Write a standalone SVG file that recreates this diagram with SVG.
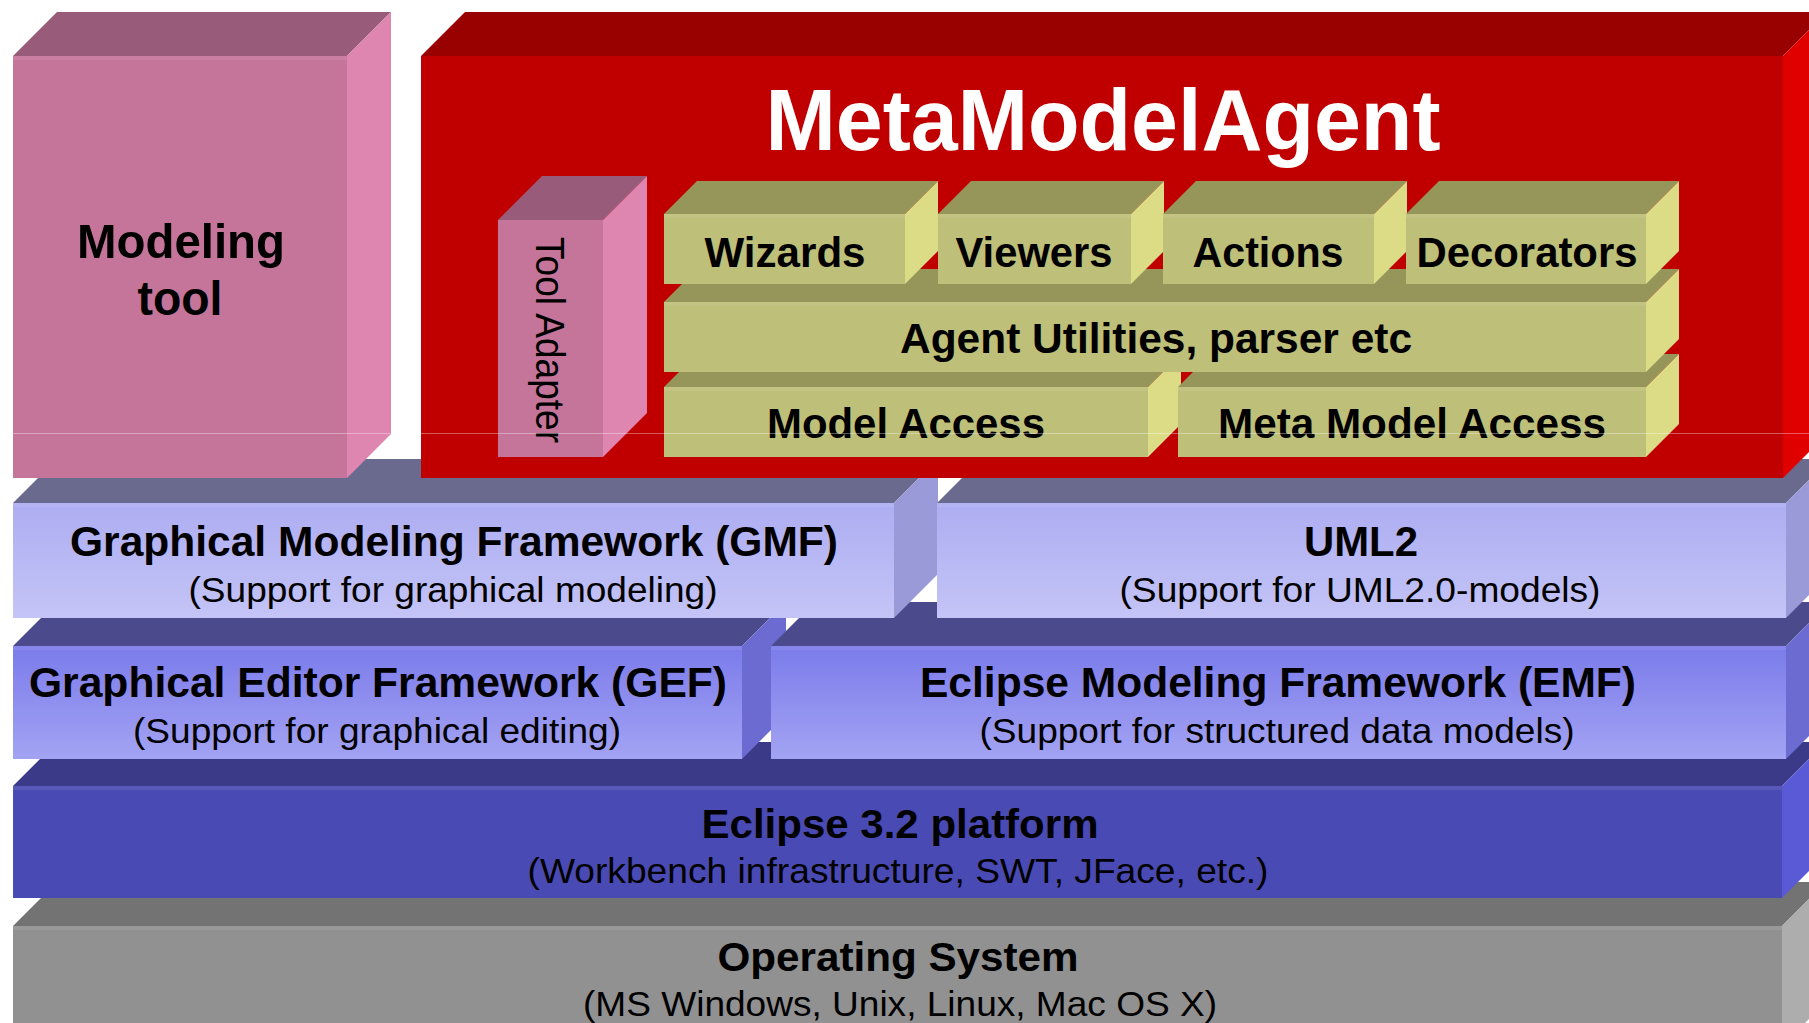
<svg xmlns="http://www.w3.org/2000/svg" width="1809" height="1023" viewBox="0 0 1809 1023">
<style>
  .t { font-family: "Liberation Sans", Arial, sans-serif; font-weight: bold; fill: #000; text-anchor: middle; }
  .s { font-family: "Liberation Sans", Arial, sans-serif; font-weight: normal; fill: #000; text-anchor: middle; }
  .pk-f { fill: #C47599; } .pk-t { fill: #985B79; } .pk-s { fill: #DE85B0; }
  .rd-f { fill: #C00000; } .rd-t { fill: #990000; } .rd-s { fill: #E00000; }
  .ol-f { fill: #BEBF78; } .ol-t { fill: #96965B; } .ol-s { fill: #DCDC87; }
  .gm-f { fill: url(#gLight); } .gm-t { fill: #6A6A8F; } .gm-s { fill: #9A9AD8; }
  .em-f { fill: url(#gMid); } .em-t { fill: #4A4A8C; } .em-s { fill: #6B6BD1; }
  .ec-f { fill: #4A4AB4; } .ec-t { fill: #3A3A89; } .ec-s { fill: #5A5AD6; }
  .os-f { fill: #919191; } .os-t { fill: #737373; } .os-s { fill: #ADADAD; }
  .hl { fill: #ffffff; fill-opacity: 0.08; }
</style>
<defs>
  <linearGradient id="gLight" x1="0" y1="0" x2="0" y2="1">
    <stop offset="0" stop-color="#ADADF2"/>
    <stop offset="1" stop-color="#C4C4F7"/>
  </linearGradient>
  <linearGradient id="gMid" x1="0" y1="0" x2="0" y2="1">
    <stop offset="0" stop-color="#7B7BEB"/>
    <stop offset="1" stop-color="#A3A3F3"/>
  </linearGradient>
</defs>
<rect width="1809" height="1023" fill="#ffffff"/>

<g id="os">
  <polygon class="os-t" points="13,926 57,882 1826,882 1782,926"/>
  <polygon class="os-s" points="1782,926 1826,882 1826,1002 1782,1046"/>
  <rect class="os-f" x="13" y="926" width="1769" height="110"/>
  <rect class="hl" x="13" y="926" width="1769" height="4"/>
  <text class="t" x="898" y="971" font-size="41" textLength="361" lengthAdjust="spacingAndGlyphs">Operating System</text>
  <text class="s" x="900" y="1016" font-size="35" textLength="634" lengthAdjust="spacingAndGlyphs">(MS Windows, Unix, Linux, Mac OS X)</text>
</g>

<g id="eclipse">
  <polygon class="ec-t" points="13,786 57,742 1826,742 1782,786"/>
  <polygon class="ec-s" points="1782,786 1826,742 1826,854 1782,898"/>
  <rect class="ec-f" x="13" y="786" width="1769" height="112"/>
  <rect class="hl" x="13" y="786" width="1769" height="4"/>
  <text class="t" x="900" y="838" font-size="41" textLength="397" lengthAdjust="spacingAndGlyphs">Eclipse 3.2 platform</text>
  <text class="s" x="898" y="883" font-size="35" textLength="741" lengthAdjust="spacingAndGlyphs">(Workbench infrastructure, SWT, JFace, etc.)</text>
</g>

<g id="gef">
  <polygon class="em-t" points="13,646 57,602 786,602 742,646"/>
  <polygon class="em-s" points="742,646 786,602 786,715 742,759"/>
  <rect class="em-f" x="13" y="646" width="729" height="113"/>
  <rect class="hl" x="13" y="646" width="729" height="4"/>
  <text class="t" x="378" y="697" font-size="42" textLength="698" lengthAdjust="spacingAndGlyphs">Graphical Editor Framework (GEF)</text>
  <text class="s" x="377" y="743" font-size="35" textLength="488" lengthAdjust="spacingAndGlyphs">(Support for graphical editing)</text>
</g>

<g id="emf">
  <polygon class="em-t" points="771,646 815,602 1830,602 1786,646"/>
  <polygon class="em-s" points="1786,646 1830,602 1830,715 1786,759"/>
  <rect class="em-f" x="771" y="646" width="1015" height="113"/>
  <rect class="hl" x="771" y="646" width="1015" height="4"/>
  <text class="t" x="1278" y="697" font-size="42" textLength="716" lengthAdjust="spacingAndGlyphs">Eclipse Modeling Framework (EMF)</text>
  <text class="s" x="1277" y="743" font-size="35" textLength="595" lengthAdjust="spacingAndGlyphs">(Support for structured data models)</text>
</g>

<g id="gmf">
  <polygon class="gm-t" points="13,503 57,459 938,459 894,503"/>
  <polygon class="gm-s" points="894,503 938,459 938,574 894,618"/>
  <rect class="gm-f" x="13" y="503" width="881" height="115"/>
  <rect class="hl" x="13" y="503" width="881" height="4"/>
  <text class="t" x="454" y="556" font-size="42" textLength="768" lengthAdjust="spacingAndGlyphs">Graphical Modeling Framework (GMF)</text>
  <text class="s" x="453" y="602" font-size="35" textLength="529" lengthAdjust="spacingAndGlyphs">(Support for graphical modeling)</text>
</g>

<g id="uml2">
  <polygon class="gm-t" points="937,503 981,459 1830,459 1786,503"/>
  <polygon class="gm-s" points="1786,503 1830,459 1830,574 1786,618"/>
  <rect class="gm-f" x="937" y="503" width="849" height="115"/>
  <rect class="hl" x="937" y="503" width="849" height="4"/>
  <text class="t" x="1361" y="556" font-size="42" textLength="114" lengthAdjust="spacingAndGlyphs">UML2</text>
  <text class="s" x="1360" y="602" font-size="35" textLength="481" lengthAdjust="spacingAndGlyphs">(Support for UML2.0-models)</text>
</g>

<g id="modeling-tool">
  <polygon class="pk-t" points="13,56 57,12 391,12 347,56"/>
  <polygon class="pk-s" points="347,56 391,12 391,434 347,478"/>
  <rect class="pk-f" x="13" y="56" width="334" height="422"/>
  <rect class="hl" x="13" y="56" width="334" height="4"/>
  <text class="t" x="181" y="258" font-size="49" textLength="208" lengthAdjust="spacingAndGlyphs">Modeling</text>
  <text class="t" x="180" y="315" font-size="49" textLength="85" lengthAdjust="spacingAndGlyphs">tool</text>
</g>

<g id="metamodelagent">
  <polygon class="rd-t" points="421,56 465,12 1827,12 1783,56"/>
  <polygon class="rd-s" points="1783,56 1827,12 1827,434 1783,478"/>
  <rect class="rd-f" x="421" y="56" width="1362" height="422"/>
  <text class="t" x="1103" y="150" font-size="88" fill="#ffffff" style="fill:#ffffff" textLength="675" lengthAdjust="spacingAndGlyphs">MetaModelAgent</text>
</g>

<g id="tool-adapter">
  <polygon class="pk-t" points="498,220 542,176 647,176 603,220"/>
  <polygon class="pk-s" points="603,220 647,176 647,413 603,457"/>
  <rect class="pk-f" x="498" y="220" width="105" height="237"/>
  <text class="s" transform="translate(536,340) rotate(90)" x="0" y="0" font-size="40" textLength="206" lengthAdjust="spacingAndGlyphs">Tool Adapter</text>
</g>

<g id="model-access">
  <polygon class="ol-t" points="664,387 697,354 1181,354 1148,387"/>
  <polygon class="ol-s" points="1148,387 1181,354 1181,424 1148,457"/>
  <rect class="ol-f" x="664" y="387" width="484" height="70"/>
  <rect class="hl" x="664" y="387" width="484" height="4"/>
  <text class="t" x="906" y="438" font-size="43" textLength="278" lengthAdjust="spacingAndGlyphs">Model Access</text>
</g>

<g id="meta-model-access">
  <polygon class="ol-t" points="1178,387 1211,354 1679,354 1646,387"/>
  <polygon class="ol-s" points="1646,387 1679,354 1679,424 1646,457"/>
  <rect class="ol-f" x="1178" y="387" width="468" height="70"/>
  <rect class="hl" x="1178" y="387" width="468" height="4"/>
  <text class="t" x="1412" y="438" font-size="43" textLength="388" lengthAdjust="spacingAndGlyphs">Meta Model Access</text>
</g>

<g id="agent-utilities">
  <polygon class="ol-t" points="664,302 697,269 1679,269 1646,302"/>
  <polygon class="ol-s" points="1646,302 1679,269 1679,339 1646,372"/>
  <rect class="ol-f" x="664" y="302" width="982" height="70"/>
  <rect class="hl" x="664" y="302" width="982" height="4"/>
  <text class="t" x="1156" y="353" font-size="43" textLength="512" lengthAdjust="spacingAndGlyphs">Agent Utilities, parser etc</text>
</g>

<g id="wizards">
  <polygon class="ol-t" points="664,214 697,181 938,181 905,214"/>
  <polygon class="ol-s" points="905,214 938,181 938,251 905,284"/>
  <rect class="ol-f" x="664" y="214" width="241" height="70"/>
  <rect class="hl" x="664" y="214" width="241" height="4"/>
  <text class="t" x="785" y="267" font-size="43" textLength="161" lengthAdjust="spacingAndGlyphs">Wizards</text>
</g>

<g id="viewers">
  <polygon class="ol-t" points="938,214 971,181 1164,181 1131,214"/>
  <polygon class="ol-s" points="1131,214 1164,181 1164,251 1131,284"/>
  <rect class="ol-f" x="938" y="214" width="193" height="70"/>
  <rect class="hl" x="938" y="214" width="193" height="4"/>
  <text class="t" x="1034" y="267" font-size="43" textLength="157" lengthAdjust="spacingAndGlyphs">Viewers</text>
</g>

<g id="actions">
  <polygon class="ol-t" points="1163,214 1196,181 1407,181 1374,214"/>
  <polygon class="ol-s" points="1374,214 1407,181 1407,251 1374,284"/>
  <rect class="ol-f" x="1163" y="214" width="211" height="70"/>
  <rect class="hl" x="1163" y="214" width="211" height="4"/>
  <text class="t" x="1268" y="267" font-size="43" textLength="151" lengthAdjust="spacingAndGlyphs">Actions</text>
</g>

<g id="decorators">
  <polygon class="ol-t" points="1406,214 1439,181 1679,181 1646,214"/>
  <polygon class="ol-s" points="1646,214 1679,181 1679,251 1646,284"/>
  <rect class="ol-f" x="1406" y="214" width="240" height="70"/>
  <rect class="hl" x="1406" y="214" width="240" height="4"/>
  <text class="t" x="1527" y="267" font-size="43" textLength="221" lengthAdjust="spacingAndGlyphs">Decorators</text>
</g>

<g id="connectors"></g>

<line x1="13" y1="433.5" x2="1809" y2="433.5" stroke="#ffffff" stroke-opacity="0.35" stroke-width="1"/>
</svg>
